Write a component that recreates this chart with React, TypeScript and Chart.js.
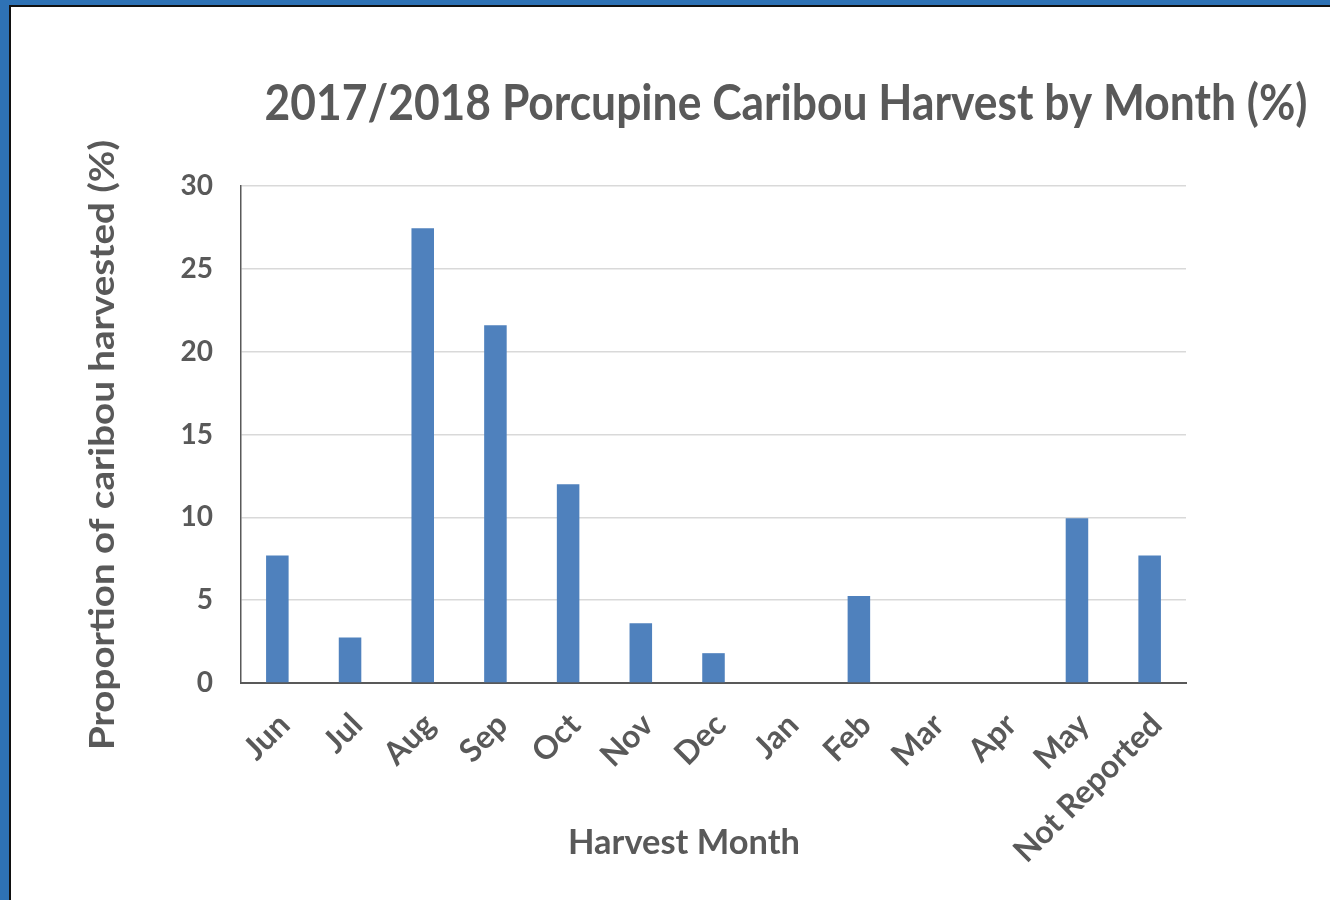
import React, { useEffect, useRef } from "react";
import { Chart, registerables } from "chart.js";

Chart.register(...registerables);

const categories = ["Jun", "Jul", "Aug", "Sep", "Oct", "Nov", "Dec", "Jan", "Feb", "Mar", "Apr", "May", "Not Reported"];
const harvestPercent = [7.7, 2.75, 27.45, 21.6, 12.0, 3.6, 1.8, 0, 5.25, 0, 0, 9.95, 7.7];
const yTickValues = [0, 5, 10, 15, 20, 25, 30];
const chartTitle = "2017/2018 Porcupine Caribou Harvest by Month (%)";
const xAxisTitle = "Harvest Month";
const yAxisTitle = "Proportion of caribou harvested (%)";

const TEXT = "#595959";
const FONT = "Lato, 'Open Sans', sans-serif";

const titlesPlugin = {
  id: "customTitles",
  afterDraw(chart: any) {
    const ctx = chart.ctx as CanvasRenderingContext2D;
    const drawFit = (text: string, x: number, y: number, size: number, target: number, rot: number) => {
      ctx.save();
      ctx.font = `bold ${size}px ${FONT}`;
      const w = ctx.measureText(text).width;
      const sx = target ? target / w : 1;
      ctx.translate(x, y);
      ctx.rotate(rot);
      ctx.scale(sx, 1);
      ctx.fillStyle = TEXT;
      ctx.textAlign = "center";
      ctx.textBaseline = "alphabetic";
      ctx.fillText(text, 0, 0);
      ctx.restore();
    };
    drawFit(chartTitle, 786, 120, 50, 1043, 0);
    drawFit(xAxisTitle, 684, 854, 34, 232, 0);
    drawFit(yAxisTitle, 114, 445, 34, 610, -Math.PI / 2);
  },
};

export default function App() {
  const ref = useRef<HTMLCanvasElement | null>(null);

  useEffect(() => {
    if (!ref.current) return;
    const chart = new Chart(ref.current, {
      type: "bar",
      data: {
        labels: categories,
        datasets: [
          {
            data: harvestPercent,
            backgroundColor: "#4f81bd",
            borderWidth: 0,
            barPercentage: 0.31,
            categoryPercentage: 1,
          },
        ],
      },
      options: {
        responsive: false,
        maintainAspectRatio: false,
        animation: false,
        layout: { padding: { left: 0, top: 186, right: 144, bottom: 0 } },
        plugins: {
          legend: { display: false },
          tooltip: { enabled: false },
          title: { display: false },
        },
        scales: {
          x: {
            grid: { display: false, drawTicks: false },
            border: { display: true, color: "#595959", width: 2 },
            ticks: {
              autoSkip: false,
              minRotation: 45,
              maxRotation: 45,
              padding: 23,
              labelOffset: 7,
              color: TEXT,
              font: { family: FONT, size: 32, weight: "bold" },
            },
            afterFit: (s: any) => {
              s.height = 217;
            },
          },
          y: {
            min: 0,
            max: 30,
            grid: { color: "#d9d9d9", lineWidth: 1.5, drawTicks: false },
            border: { display: true, color: "#595959", width: 1.5 },
            ticks: {
              padding: 28,
              color: TEXT,
              font: { family: FONT, size: 28, weight: "bold" },
            },
            afterBuildTicks: (s: any) => {
              s.ticks = yTickValues.map((v) => ({ value: v }));
            },
            afterFit: (s: any) => {
              s.width = 241;
            },
          },
        },
      },
      plugins: [titlesPlugin],
    });
    return () => chart.destroy();
  }, []);

  return (
    <div style={{ position: "fixed", left: 0, top: 0, width: 1330, height: 900, background: "#fff", overflow: "hidden" }}>
      <canvas ref={ref} width={1330} height={900} style={{ position: "absolute", left: 0, top: 0 }} />
      <div style={{ position: "absolute", left: 0, top: 0, width: 9, height: 900, background: "#2e72b5" }} />
      <div style={{ position: "absolute", left: 0, top: 0, width: 1330, height: 5, background: "#2e72b5" }} />
      <div style={{ position: "absolute", left: 9, top: 5, width: 2, height: 895, background: "#111" }} />
      <div style={{ position: "absolute", left: 9, top: 5, width: 1321, height: 2, background: "#111" }} />
    </div>
  );
}
